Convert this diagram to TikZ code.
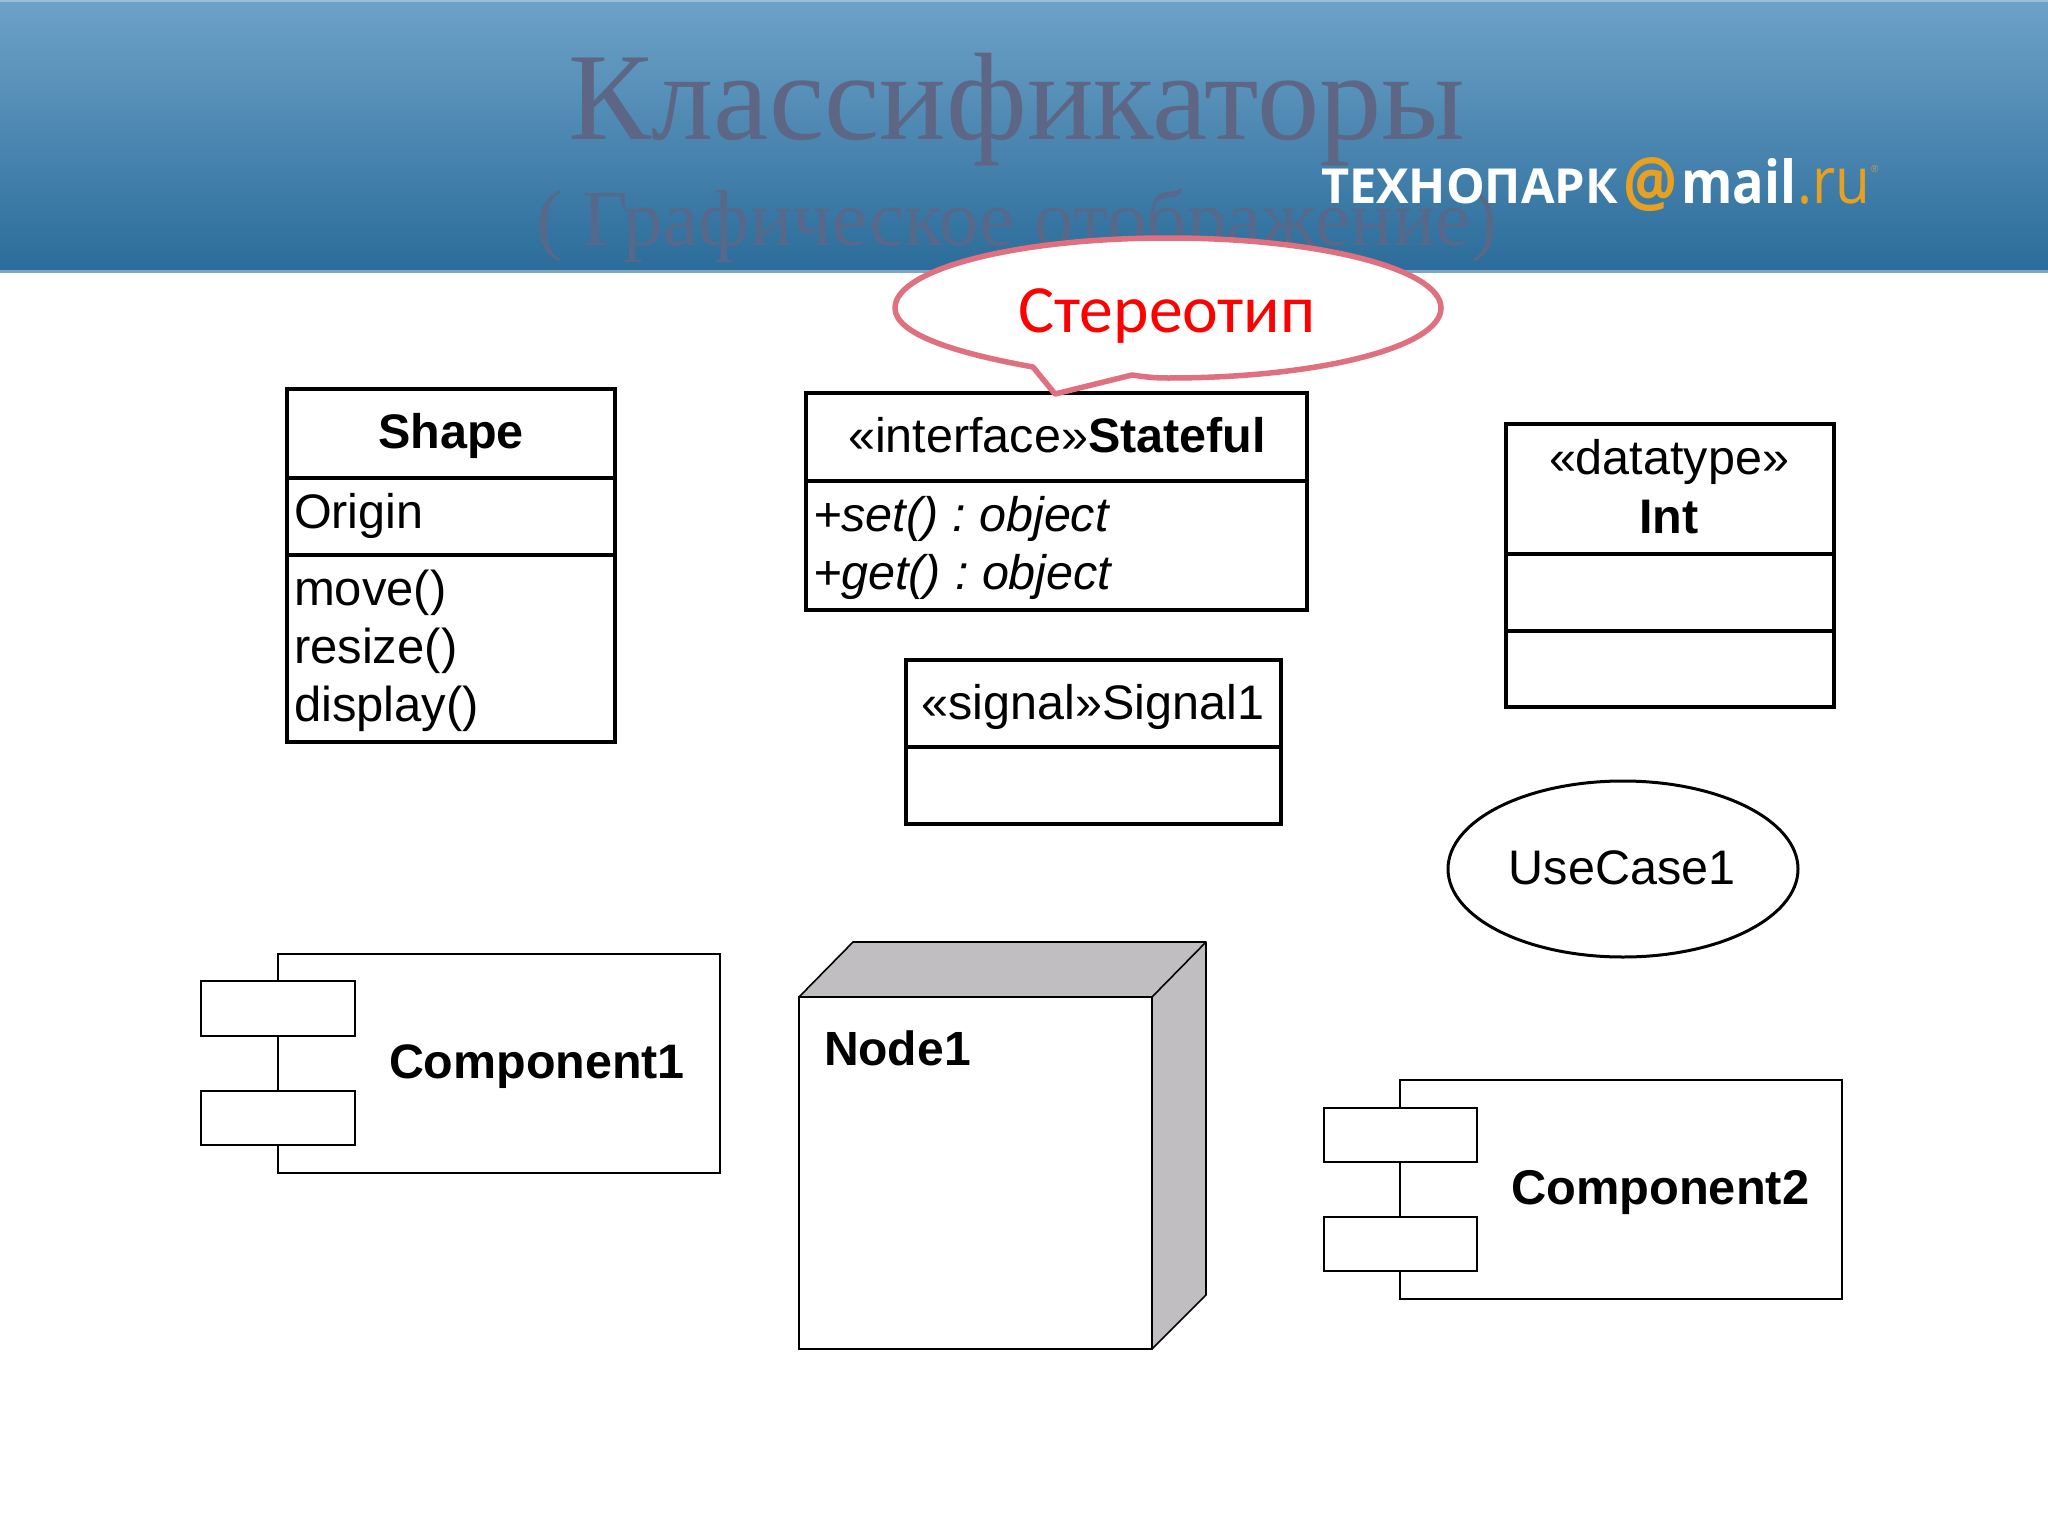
\documentclass[tikz,border=0pt]{standalone}
\usepackage{graphicx}
\usepackage{fontspec}
\setmainfont{Liberation Sans}
\newfontfamily\titlefont{Liberation Serif}
\newfontfamily\calloutfont{Carlito}
\newfontfamily\logofont{Open Sans}
\definecolor{headtop}{HTML}{6EA2C8}
\definecolor{headbot}{HTML}{2A6C9A}
\definecolor{titlecol}{HTML}{5D6785}
\definecolor{subcol}{HTML}{56698A}
\definecolor{pinkline}{HTML}{E0707F}
\definecolor{nodegrey}{HTML}{C0BEC1}
\definecolor{logoorange}{HTML}{E8A020}
\tikzset{
  x=1pt,y=-1pt,
  every node/.style={inner sep=0pt,outer sep=0pt},
  umlbox/.style={draw=black,line width=4pt,fill=white},
  thinbox/.style={draw=black,line width=1.6pt,fill=white},
  lab/.style={anchor=base,font=\fontsize{48.5}{58}\selectfont},
  labl/.style={anchor=base west,font=\fontsize{48.5}{58}\selectfont},
  labm/.style={anchor=base west,font=\fontsize{49}{58}\selectfont},
  boldlab/.style={font=\bfseries\fontsize{48.5}{58}\selectfont},
  logo/.style={anchor=base west,font=\logofont\bfseries\fontsize{48}{48}\selectfont}
}
\begin{document}
\begin{tikzpicture}
\useasboundingbox (0,0) rectangle (2048,1536);
\fill[white] (0,0) rectangle (2048,1536);
% header
\shade[top color=headtop,bottom color=headbot] (0,0) rectangle (2048,272);
\fill[headtop!70!white] (0,0) rectangle (2048,2);
\fill[headbot!60!white] (0,270) rectangle (2048,273);
\node[anchor=base,text=titlecol,font=\titlefont\fontsize{124.5}{126}\selectfont] (title) at (1017,140) {Классификаторы};
\node[anchor=base,text=subcol,font=\titlefont\fontsize{79.3}{80}\selectfont] (subtitle) at (1017,245) {( Графическое отображение)};
% logo
\node[logo,text=white] (logoa) at (1321,203) {\resizebox{297pt}{35pt}{ТЕХНОПАРК}};
\node[anchor=south west,text=logoorange,font=\logofont\bfseries\fontsize{48}{48}\selectfont] (logob) at (1623,212) {\resizebox*{54pt}{54pt}{@}};
\node[logo,text=white] (logoc) at (1681,203) {\resizebox{115pt}{45pt}{mail}};
\node[logo,text=logoorange,font=\logofont\fontsize{48}{48}\selectfont] (logod) at (1797,203) {\resizebox{73pt}{35pt}{.ru}};
\node[anchor=base west,text=logoorange!70!headtop,font=\fontsize{10}{10}\selectfont] (logoe) at (1871,172) {®};
% Shape
\draw[umlbox] (287,389) rectangle (615,742);
\draw[black,line width=4pt] (287,478) -- (615,478) (287,555) -- (615,555);
\node[lab,boldlab] (shapename) at (451,448) {Shape};
\node[labl] (origin) at (294,528) {Origin};
\node[labm] (move) at (294,605) {move()};
\node[labm] (resize) at (294,663) {resize()};
\node[labm] (display) at (294,721) {display()};
% Stateful
\draw[umlbox] (806,393) rectangle (1307,610);
\draw[black,line width=4pt] (806,481) -- (1307,481);
\node[lab] (stateful) at (1057,452) {«interface»\textbf{Stateful}};
\node[labl] (setop) at (813,531) {\textit{+set()\hspace{14pt}:\hspace{13.5pt}object}};
\node[labl] (getop) at (813,589) {\textit{+get()\hspace{14pt}:\hspace{13.5pt}object}};
% callout (drawn over the Stateful box)
\draw[pinkline,line width=5.5pt,fill=white,line join=round]
  (1033,367) .. controls (950,352) and (895,333) .. (895,308)
  .. controls (895,269) and (1017,238) .. (1168,238)
  .. controls (1319,238) and (1441,269) .. (1441,308)
  .. controls (1441,347) and (1319,378) .. (1168,378)
  .. controls (1155,378) and (1145,377) .. (1132,375)
  -- (1055,394) -- cycle;
\node[anchor=base,text=red,font=\calloutfont\fontsize{67.6}{68}\selectfont] (callout) at (1167,332) {Стереотип};
% Signal
\draw[umlbox] (906,660) rectangle (1281,824);
\draw[black,line width=4pt] (906,747) -- (1281,747);
\node[lab] (signal) at (1093,719) {«signal»Signal1};
% Datatype
\draw[umlbox] (1506,424) rectangle (1834,707);
\draw[black,line width=4pt] (1506,554) -- (1834,554) (1506,631) -- (1834,631);
\node[lab] (dtype) at (1669,474) {«datatype»};
\node[lab,boldlab] (intname) at (1669,533) {Int};
% Use case
\draw[black,line width=3pt,fill=white] (1623,869) ellipse[x radius=175,y radius=88];
\node[lab] (usecase) at (1622,884) {UseCase1};
% Component1
\draw[thinbox] (278,954) rectangle (720,1173);
\draw[thinbox] (201,981) rectangle (355,1036);
\draw[thinbox] (201,1091) rectangle (355,1145);
\node[labl,font=\bfseries\fontsize{48.4}{58}\selectfont] (compa) at (389,1078) {Component1};
% Component2
\draw[thinbox] (1400,1080) rectangle (1842,1299);
\draw[thinbox] (1324,1108) rectangle (1477,1162);
\draw[thinbox] (1324,1217) rectangle (1477,1271);
\node[labl,font=\bfseries\fontsize{48.8}{58}\selectfont] (compb) at (1511,1204) {Component2};
% Node1
\draw[thinbox,fill=nodegrey,line join=round] (799,997) -- (853,942) -- (1206,942) -- (1206,1295) -- (1152,1349) -- (1152,997) -- cycle;
\draw[thinbox] (1152,997) -- (1206,942);
\draw[thinbox] (799,997) rectangle (1152,1349);
\node[labl,font=\bfseries\fontsize{48}{58}\selectfont] (nodename) at (824,1065) {Node1};
\end{tikzpicture}
\end{document}
